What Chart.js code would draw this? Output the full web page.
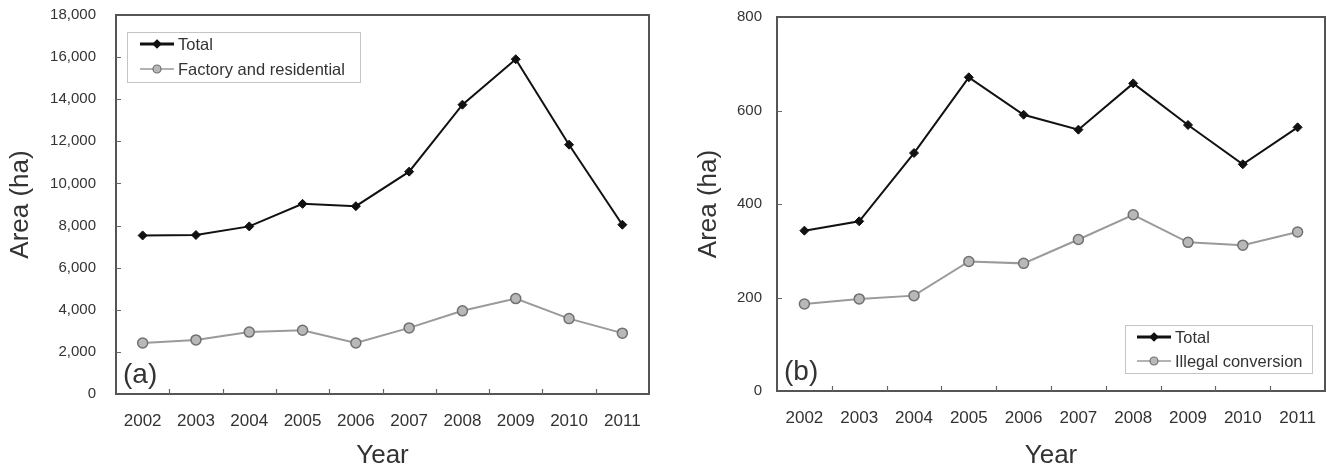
<!DOCTYPE html>
<html><head><meta charset="utf-8">
<script src="https://cdn.jsdelivr.net/npm/chart.js@4/dist/chart.umd.min.js"></script>
<style>
html,body{margin:0;padding:0;background:#fff;width:1327px;height:469px;overflow:hidden}
canvas{position:absolute;top:0}
</style></head><body>
<canvas id="ca" width="663" height="469" style="left:0"></canvas>
<canvas id="cb" width="664" height="469" style="left:663px"></canvas>
<script>
const years = ['2002','2003','2004','2005','2006','2007','2008','2009','2010','2011'];
const totalA = [7530, 7550, 7960, 9030, 8920, 10560, 13740, 15900, 11840, 8040];
const factoryA = [2420, 2570, 2940, 3030, 2420, 3140, 3950, 4530, 3580, 2890];
const totalB = [343, 363, 509, 671, 591, 559, 658, 569, 485, 564];
const illegalB = [186, 197, 204, 277, 273, 324, 377, 318, 312, 340];
const namesA = ['Total', 'Factory and residential'];
const namesB = ['Total', 'Illegal conversion'];
const yRangeA = [0, 18000, 2000];
const yRangeB = [0, 800, 200];
const panelA = '(a)';
const panelB = '(b)';
const xTitle = 'Year';
const yTitle = 'Area (ha)';

const FONT = "'Liberation Sans', Arial, Helvetica, sans-serif";
Chart.defaults.font.family = FONT;

const framePlugin = {
  id: 'frame',
  afterDatasetsDraw(chart, args, o) {
    const ctx = chart.ctx, a = chart.chartArea;
    const xs = chart.scales.x, ys = chart.scales.y;
    ctx.save();
    // frame
    ctx.strokeStyle = '#555'; ctx.lineWidth = 2;
    ctx.strokeRect(a.left, a.top, a.right - a.left, a.bottom - a.top);
    // inward ticks
    ctx.lineWidth = 1.2; ctx.strokeStyle = '#666';
    ctx.beginPath();
    ys.ticks.forEach((t, i) => {
      if (i === 0 || i === ys.ticks.length - 1) return;
      const y = Math.round(ys.getPixelForTick(i)) + 0.5;
      ctx.moveTo(a.left, y); ctx.lineTo(a.left + 5, y);
    });
    for (let i = 1; i < chart.data.labels.length; i++) {
      const x = Math.round((xs.getPixelForValue(i - 1) + xs.getPixelForValue(i)) / 2) + 0.5;
      ctx.moveTo(x, a.bottom); ctx.lineTo(x, a.bottom - 5);
    }
    ctx.stroke();
    // panel label
    ctx.fillStyle = '#333';
    ctx.font = '28px ' + FONT;
    ctx.textBaseline = 'middle'; ctx.textAlign = 'left';
    ctx.fillText(o.panel, a.left + 7, a.bottom - 19);
    // legend box
    const L = o.legend;
    const bx = L.fromRight ? a.right - L.dx - L.w : a.left + L.dx;
    const by = L.fromBottom ? a.bottom - L.dy - L.h : a.top + L.dy;
    ctx.fillStyle = '#fff';
    ctx.fillRect(bx, by, L.w, L.h);
    ctx.strokeStyle = '#c4c4c4'; ctx.lineWidth = 1;
    ctx.strokeRect(bx + 0.5, by + 0.5, L.w, L.h);
    const ds = chart.data.datasets;
    ds.forEach((d, i) => {
      const y = by + L.row0 + i * L.rowGap;
      const x0 = bx + L.lineX, x1 = x0 + 34;
      ctx.strokeStyle = d.borderColor;
      ctx.lineWidth = i === 0 ? 3 : 1.6;
      ctx.beginPath(); ctx.moveTo(x0, y); ctx.lineTo(x1, y); ctx.stroke();
      ctx.fillStyle = d.backgroundColor;
      ctx.strokeStyle = d.pointBorderColor || d.borderColor;
      ctx.lineWidth = 1.2;
      ctx.beginPath();
      const cx = (x0 + x1) / 2;
      if (d.pointStyle === 'rectRot') {
        const r = 4;
        ctx.moveTo(cx, y - r); ctx.lineTo(cx + r, y); ctx.lineTo(cx, y + r); ctx.lineTo(cx - r, y); ctx.closePath();
      } else {
        ctx.arc(cx, y, 4, 0, Math.PI * 2);
      }
      ctx.fill(); ctx.stroke();
      ctx.fillStyle = '#333';
      ctx.font = '16.5px ' + FONT;
      ctx.textBaseline = 'middle';
      ctx.fillText(d.label, x1 + 4, y + 1);
    });
    ctx.restore();
  }
};

function makeChart(id, c) {
  return new Chart(document.getElementById(id), {
    type: 'line',
    data: {
      labels: years,
      datasets: [
        { label: c.names[0], data: c.s1, borderColor: '#111', backgroundColor: '#111',
          pointBorderColor: '#111', borderWidth: 2, pointStyle: 'rectRot', pointRadius: 4.5,
          pointBorderWidth: 1, tension: 0, clip: false },
        { label: c.names[1], data: c.s2, borderColor: '#9a9a9a', backgroundColor: '#b8b8b8',
          pointBackgroundColor: '#b8b8b8', pointBorderColor: '#707070', borderWidth: 2,
          pointStyle: 'circle', pointRadius: 5, pointBorderWidth: 1.5, tension: 0, clip: false }
      ]
    },
    options: {
      responsive: false, animation: false, events: [],
      layout: { autoPadding: false, padding: { top: c.top, right: c.right, left: 0, bottom: 0 } },
      plugins: {
        legend: { display: false }, tooltip: { enabled: false },
        frame: { panel: c.panel, legend: c.legend }
      },
      scales: {
        x: {
          offset: true,
          grid: { display: false, drawTicks: false, offset: true },
          border: { display: false },
          ticks: { padding: 17, color: '#333', font: { size: 17 }, maxRotation: 0, autoSkip: false },
          title: { display: true, text: xTitle, color: '#333', font: { size: 26, lineHeight: 1 }, padding: 0 },
          afterFit: s => { s.height = 469 - c.bottom; s.paddingLeft = 0; s.paddingRight = 0; }
        },
        y: {
          min: c.yr[0], max: c.yr[1],
          grid: { display: false, drawTicks: false },
          border: { display: false },
          ticks: { stepSize: c.yr[2], padding: c.yPad, color: '#333', font: { size: 15 },
                   callback: v => v.toLocaleString('en-US') },
          title: { display: true, text: yTitle, color: '#333', font: { size: 26, lineHeight: 1 },
                   padding: { top: c.titlePad, bottom: 0 } },
          afterFit: s => { s.width = c.left; s.paddingTop = 0; s.paddingBottom = 0; }
        }
      }
    },
    plugins: [framePlugin]
  });
}

makeChart('ca', {
  names: namesA, s1: totalA, s2: factoryA, yr: yRangeA, panel: panelA,
  top: 15, bottom: 394, left: 116, right: 663 - 649, yPad: 20, titlePad: 8,
  legend: { fromRight: false, fromBottom: false, dx: 11, dy: 17, w: 233, h: 50, lineX: 13, row0: 12, rowGap: 25 }
});
makeChart('cb', {
  names: namesB, s1: totalB, s2: illegalB, yr: yRangeB, panel: panelB,
  top: 17, bottom: 391, left: 777 - 663, right: 664 - (1325 - 663), yPad: 15, titlePad: 33,
  legend: { fromRight: true, fromBottom: true, dx: 13, dy: 18, w: 187, h: 48, lineX: 12, row0: 12, rowGap: 24 }
});
</script>
</body></html>
